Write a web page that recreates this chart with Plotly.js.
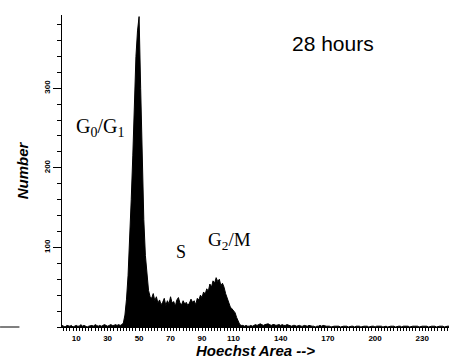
<!DOCTYPE html>
<html>
<head>
<meta charset="utf-8">
<script src="https://cdn.plot.ly/plotly-3.0.1.min.js"></script>
<style>html,body{margin:0;padding:0;background:#fff;}#chart{width:449px;height:359px;}</style>
</head>
<body>
<div id="chart"></div>
<script>
// Histogram of Hoechst Area (bin width 1, first bin at 0)
var binStart = 0;
var counts = [
  1,2,1,0,2,1,1,2,0,1, 2,1,1,3,1,2,1,0,1,2, 2,1,3,2,1,2,1,2,3,2, 1,2,3,2,2,3,2,3,2,3,
  5,15,35,65,105,160,215,285,340,372,390,300,205,135,90,62,46,38,
  36,42,33,38,30,34,28,31,36,27, 33,29,38,30,32,26,34,37,30,28,
  33,29,31,27,30,35,31,33,28,36, 34,40,37,44,41,48,45,54,50,58,
  55,62,57,60,52,55,50,42,36,30, 25,23,20,18,12,6,3,2,
  2,1,2,1,1,2,1,2,3,2, 3,4,3,2,3,4,4,3,2,3, 3,2,3,3,2,3,2,2,3,2,
  2,1,2,2,1,2,2,1,1,2, 1,1,2,1,1,1,0,1,1,2, 1,2,1,1,1,1,0,1,1,1,
  1,1,0,1,1,1,1,0,1,1, 1,0,1,1,1,0,1,1,1,1, 0,1,1,1,0,1,1,1,1,0,
  1,1,0,1,1,1,1,0,1,1, 1,0,1,1,1,1,0,1,1,1, 1,1,0,1,1,1,1,1,0,1,
  1,1,1,0,1,1,1,1,0,1,1,1
];
var xTickVals = [10, 30, 50, 70, 90, 110, 140, 170, 200, 230];
var yTickVals = [100, 200, 300];
var phaseLabels = ['G<sub>0</sub>/G<sub>1</sub>', 'S', 'G<sub>2</sub>/M'];
var timeLabel = '28 hours';

var xs = counts.map(function (c, i) { return binStart + i; });

var trace = {
  x: xs, y: counts, type: 'scatter', mode: 'lines',
  line: {color: '#000', width: 1, shape: 'linear'},
  fill: 'tozeroy', fillcolor: '#000', hoverinfo: 'skip'
};

var sans = 'Liberation Sans, Arial, sans-serif';
var serif = 'Liberation Serif, Times New Roman, serif';

function ann(text, x, y, family, size) {
  return {text: text, xref: 'paper', yref: 'paper', x: x, y: y,
          xanchor: 'center', yanchor: 'middle', showarrow: false,
          font: {family: family, size: size, color: '#000'}};
}

var layout = {
  width: 449, height: 359,
  margin: {l: 62, r: 0, t: 15, b: 32},
  paper_bgcolor: '#fff', plot_bgcolor: '#fff',
  showlegend: false,
  xaxis: {
    range: [1, 247], showgrid: false, zeroline: false,
    showline: true, linecolor: '#000', linewidth: 1,
    tickmode: 'array', tickvals: xTickVals, ticktext: xTickVals.map(String),
    ticks: 'outside', ticklen: 3, tickwidth: 1, tickcolor: '#000',
    minor: {dtick: 2, tick0: 0, ticks: 'outside', ticklen: 3, tickcolor: '#000', tickwidth: 1, showgrid: false},
    tickfont: {family: sans, size: 8, color: '#000', weight: 'bold'},
    title: {text: '<b><i>Hoechst Area --&gt;</i></b>', font: {family: sans, size: 15, color: '#000'}, standoff: 6}
  },
  yaxis: {
    range: [0, 392], showgrid: false, zeroline: false,
    showline: true, linecolor: '#000', linewidth: 1,
    tickmode: 'array', tickvals: yTickVals, ticktext: yTickVals.map(String),
    ticks: 'outside', ticklen: 8, tickwidth: 1, tickcolor: '#000',
    minor: {dtick: 20, tick0: 0, ticks: 'outside', ticklen: 4, tickcolor: '#000', tickwidth: 1, showgrid: false},
    tickangle: -90,
    tickfont: {family: sans, size: 8, color: '#000', weight: 'bold'},
    title: {text: '<b><i>Number</i></b>', font: {family: sans, size: 15, color: '#000'}, standoff: 10}
  },
  annotations: [
    ann(timeLabel, 0.700, 0.910, sans, 21),
    ann(phaseLabels[0], 0.098, 0.641, serif, 20),
    ann(phaseLabels[1], 0.307, 0.240, serif, 18),
    ann(phaseLabels[2], 0.432, 0.276, serif, 19)
  ],
  shapes: [
    {type: 'line', xref: 'paper', yref: 'paper', x0: -0.16, x1: -0.11, y0: 0, y1: 0,
     line: {color: '#000', width: 1}}
  ]
};

Plotly.newPlot('chart', [trace], layout, {staticPlot: true, displayModeBar: false});
</script>
</body>
</html>
